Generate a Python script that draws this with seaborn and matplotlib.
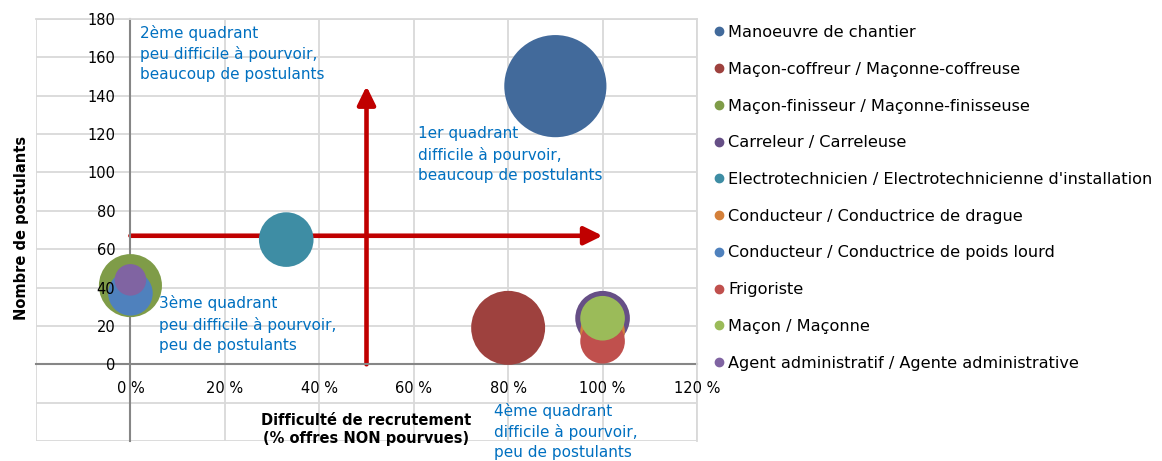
import pandas as pd
import seaborn as sns
from matplotlib import pyplot as plt
from matplotlib.lines import Line2D
from matplotlib.ticker import FuncFormatter

# metiers (ordre des series du graphique d'origine)
metiers = ["Manoeuvre de chantier",
           "Maçon-coffreur / Maçonne-coffreuse",
           "Maçon-finisseur / Maçonne-finisseuse",
           "Carreleur / Carreleuse",
           "Electrotechnicien / Electrotechnicienne d'installation",
           "Conducteur / Conductrice de drague",
           "Conducteur / Conductrice de poids lourd",
           "Frigoriste",
           "Maçon / Maçonne",
           "Agent administratif / Agente administrative"]
difficulte = [90, 80, 0, 100, 33, 100, 0, 100, 100, 0]      # % offres non pourvues
postulants = [145, 19, 41, 24, 65, 17, 37, 12, 24, 44]
offres = [21, 11, 8, 6, 6, 4, 4, 4, 4, 2]                     # taille des bulles
couleurs = ["#426A9B", "#9E413E", "#7F9C48", "#664F86", "#3E8DA4",
            "#D4803A", "#4F81BD", "#C0504D", "#9BBB59", "#8064A2"]

x_ticks = [-20, 0, 20, 40, 60, 80, 100, 120]
y_ticks = [-40, -20, 0, 20, 40, 60, 80, 100, 120, 140, 160, 180]

df = pd.DataFrame({"metier": metiers, "difficulte": difficulte,
                   "postulants": postulants, "offres": offres})

sns.set_style("white")
plt.rcParams['font.family'] = ['DejaVu Sans']
plt.rcParams['text.color'] = 'black'

fig = plt.figure(figsize=(11.62, 4.61), dpi=100)
ax = fig.add_axes([36 / 1162, 1 - 441 / 461, 661 / 1162, 422 / 461])

# quadrillage dessine a la main pour rester sous les bulles
# (les etiquettes des axes, elles, passent au-dessus)
for xv in x_ticks:
    ax.axvline(xv, color="#D9D9D9", lw=1.3, zorder=0.5)
for yv in y_ticks:
    ax.axhline(yv, color="#D9D9D9", lw=1.3, zorder=0.5)

# fleches des quadrants (sous les bulles)
rouge = "#C00000"
style = "-|>,head_length=0.55,head_width=0.27"
ax.annotate("", xy=(100, 67), xytext=(0, 67), zorder=1,
            arrowprops=dict(arrowstyle=style, color=rouge, lw=3.3,
                            mutation_scale=20, shrinkA=0, shrinkB=0))
ax.annotate("", xy=(50, 145), xytext=(50, 0), zorder=1,
            arrowprops=dict(arrowstyle=style, color=rouge, lw=3.3,
                            mutation_scale=20, shrinkA=0, shrinkB=0))

sns.scatterplot(data=df, x="difficulte", y="postulants", hue="metier",
                palette=couleurs, size="offres", sizes=(516, 5410),
                size_norm=(2, 21), legend=False, linewidth=0, alpha=1,
                zorder=2, ax=ax)

ax.set_xlim(-20, 120)
ax.set_ylim(-40, 180)
ax.set_xticks(x_ticks)
ax.set_yticks(y_ticks)
ax.xaxis.set_major_formatter(FuncFormatter(lambda v, p: "" if v < 0 else "%d %%" % v))
ax.yaxis.set_major_formatter(FuncFormatter(lambda v, p: "" if v < 0 else "%d" % v))
ax.grid(False)
ax.set_axisbelow(False)

for s in ["top", "right"]:
    ax.spines[s].set_color("#D9D9D9")
    ax.spines[s].set_linewidth(1.3)
for s in ["left", "bottom"]:
    ax.spines[s].set_position(("data", 0))
    ax.spines[s].set_color("#868686")
    ax.spines[s].set_linewidth(1.5)
    ax.spines[s].set_zorder(1.5)
ax.tick_params(axis="both", direction="out", length=5, width=1.5,
               color="#868686", labelsize=10.5, labelcolor="black")
ax.tick_params(axis="x", pad=7)
ax.tick_params(axis="y", pad=6)
ax.set_xlabel("")
ax.set_ylabel("")

fig.text(22 / 1162, 1 - 228 / 461, "Nombre de postulants", rotation=90,
         ha="center", va="center", fontsize=10.5, fontweight="bold")
ax.text(50, -34, "Difficulté de recrutement\n(% offres NON pourvues)",
        ha="center", va="center", fontsize=10.5, fontweight="bold", linespacing=1.3)

bleu = "#0070C0"
qtxt = dict(color=bleu, fontsize=11, va="top", linespacing=1.42, clip_on=False)
ax.text(2, 177, "2ème quadrant\npeu difficile à pourvoir,\nbeaucoup de postulants", **qtxt)
ax.text(61, 124, "1er quadrant\ndifficile à pourvoir,\nbeaucoup de postulants", **qtxt)
ax.text(6, 36, "3ème quadrant\npeu difficile à pourvoir,\npeu de postulants", **qtxt)
ax.text(77, -20, "4ème quadrant\ndifficile à pourvoir,\npeu de postulants", **qtxt)

handles = [Line2D([], [], marker="o", ls="", color=c, markersize=6) for c in couleurs]
fig.legend(handles, metiers, loc="upper left", bbox_to_anchor=(714 / 1162, 1 - 25 / 461),
           frameon=False, fontsize=11.6, handlelength=0.6, handletextpad=0.3,
           labelspacing=1.35, borderpad=0, borderaxespad=0)

fig.savefig("out.png", dpi=100)
